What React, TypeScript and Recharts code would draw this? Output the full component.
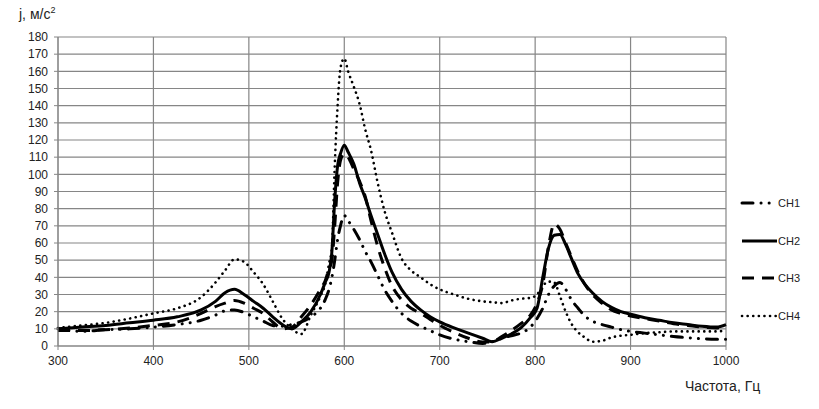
import { LineChart, Line, XAxis, YAxis, CartesianGrid } from 'recharts';

const freq = [
  300, 325, 350, 375, 400, 425, 450, 465, 475, 485, 495, 505, 515, 525, 535, 545, 555, 565, 575, 580,
  584, 587, 590, 593, 596, 600, 604, 610, 616, 622, 628, 635, 642, 650, 660, 670, 680, 690, 700, 715,
  730, 745, 755, 765, 775, 785, 795, 802, 808, 814, 820, 826, 832, 838, 845, 852, 860, 870, 880, 890,
  900, 915, 930, 945, 960, 975, 990, 1000,
];

const ch1 = [
  10, 8.5, 9.5, 10, 11, 12.5, 15, 18, 20.5, 21, 19.5, 17, 14.5, 12, 11.5, 12.5, 14, 17, 22, 27,
  33, 40, 50, 62, 70, 76, 73, 68, 62, 55, 49, 41, 33, 26, 19, 14.5, 11.5, 9, 6.5, 4,
  2.5, 1.5, 2.5, 4.5, 6, 7.5, 11, 16, 22, 30, 35, 37, 33, 27, 22, 17.5, 14.5, 12.5, 11, 9.5,
  8.5, 7.5, 6.5, 5.5, 4.8, 4.2, 4, 4,
];

const ch2 = [
  10, 11, 12, 13.5, 15, 17, 21, 26, 31, 33, 30, 26, 22, 17, 12.5, 10, 14, 20, 30, 37,
  43, 55, 85, 105, 112, 117, 113, 106, 95, 86, 76, 65, 54, 43, 33, 26, 21, 17, 14, 10.5,
  7.5, 4.5, 2.5, 4.5, 7, 10.5, 16.5, 22, 40, 57, 64.5, 65, 59, 51, 42, 36, 31, 26, 22.5, 20,
  18.5, 16.5, 15, 13.5, 12.5, 11.5, 11, 12.5,
];

const ch3 = [
  9, 9, 9.5, 10.5, 12, 14, 19, 23, 25, 26.5, 25, 22, 19, 14, 10, 11, 17, 24, 33, 38,
  45, 50, 70, 95, 108, 112, 110, 103, 96, 87, 73, 58, 46, 35, 27, 22, 19, 15.5, 12, 8,
  4.5, 2.3, 2.5, 5.5, 9, 13, 18, 25, 36, 58, 71, 68, 60, 52, 43, 36, 30, 25, 21, 19,
  17.5, 16, 14.5, 13, 12, 11, 10.5, 11.5,
];

const ch4 = [
  10.5, 12, 13.5, 16, 19, 22, 28.5, 37, 44, 50.5, 49, 43, 36, 26, 16, 10, 7, 18, 29, 36,
  48, 57, 105, 140, 162, 167.5, 160, 151, 141, 126, 114, 95, 79, 66, 51, 44, 40, 36, 33, 30,
  27.5, 26, 25.5, 25, 26.5, 27.5, 28, 30, 35, 37.5, 37, 29, 20, 13, 8, 5, 2.5, 3, 5, 6,
  6.5, 7.5, 8, 8.5, 8.5, 8.5, 8.5, 9,
];

const xTicks = [300, 400, 500, 600, 700, 800, 900, 1000];
const yTicks = [0, 10, 20, 30, 40, 50, 60, 70, 80, 90, 100, 110, 120, 130, 140, 150, 160, 170, 180];

const data = freq.map((f, i) => ({ f, ch1: ch1[i], ch2: ch2[i], ch3: ch3[i], ch4: ch4[i] }));

const series = [
  { key: 'ch1', name: 'CH1', dash: '11 8 0.1 8 0.1 8', width: 3, cap: 'round' as const },
  { key: 'ch2', name: 'CH2', dash: undefined, width: 3, cap: 'butt' as const },
  { key: 'ch3', name: 'CH3', dash: '12 8', width: 3, cap: 'butt' as const },
  { key: 'ch4', name: 'CH4', dash: '0.1 5.5', width: 2.6, cap: 'round' as const },
];

const legendTop = [203, 241, 278, 316];

const font = '"Liberation Sans", Arial, sans-serif';
const grey = '#868686';

export default function App() {
  return (
    <div style={{ position: 'absolute', left: 0, top: 0, width: 819, height: 409, background: '#fff', fontFamily: font }}>
      <LineChart width={819} height={409} data={data} margin={{ top: 37, right: 93, bottom: 33, left: 0 }}>
        <CartesianGrid stroke={grey} strokeWidth={1.2} />
        <XAxis
          dataKey="f"
          type="number"
          domain={[300, 1000]}
          ticks={xTicks}
          height={30}
          stroke={grey}
          tickSize={4}
          tickMargin={6}
          tick={{ fontSize: 12, fill: '#222', fontFamily: font }}
        />
        <YAxis
          domain={[0, 180]}
          ticks={yTicks}
          width={58}
          stroke={grey}
          tickSize={4}
          tickMargin={6}
          interval={0}
          tick={{ fontSize: 12, fill: '#222', fontFamily: font }}
        />
        {series.map((s) => (
          <Line
            key={s.key}
            type="monotone"
            dataKey={s.key}
            name={s.name}
            stroke="#000"
            strokeWidth={s.width}
            strokeDasharray={s.dash}
            strokeLinecap={s.cap}
            dot={false}
            activeDot={false}
            isAnimationActive={false}
          />
        ))}
      </LineChart>
      <div style={{ position: 'absolute', left: 19, top: 5, fontSize: 14, color: '#222' }}>
        j, м/с<sup style={{ fontSize: 9 }}>2</sup>
      </div>
      <div style={{ position: 'absolute', left: 685, top: 378, fontSize: 14, color: '#222' }}>Частота, Гц</div>
      {series.map((s, i) => (
        <div key={s.key} style={{ position: 'absolute', left: 740, top: legendTop[i] - 8, height: 16, display: 'flex', alignItems: 'center' }}>
          <svg width={38} height={16}>
            <line
              x1={2}
              y1={8}
              x2={37}
              y2={8}
              stroke="#000"
              strokeWidth={s.width}
              strokeDasharray={s.dash}
              strokeLinecap={s.cap}
            />
          </svg>
          <span style={{ fontSize: 11, color: '#222' }}>{s.name}</span>
        </div>
      ))}
    </div>
  );
}
